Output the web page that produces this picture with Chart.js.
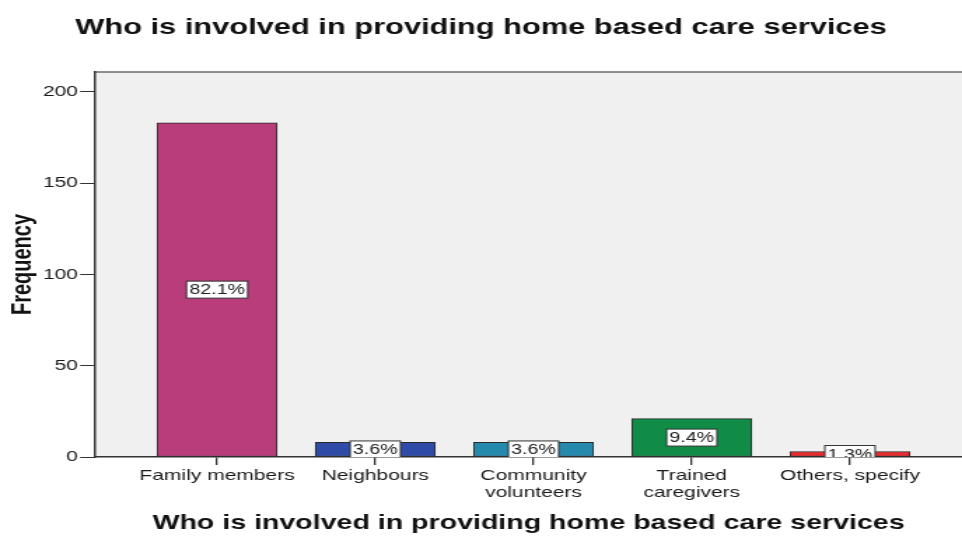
<!DOCTYPE html>
<html>
<head>
<meta charset="utf-8">
<script src="https://cdn.jsdelivr.net/npm/chart.js@4/dist/chart.umd.min.js"></script>
<style>
  html, body { margin:0; padding:0; background:#fff; overflow:hidden; }
  #wrap { width:962px; height:536px; position:relative; }
  /* 원본 그림이 가로로 늘어나 있어서 canvas 를 가로로만 늘려줌 */
  #chart { position:absolute; left:0; top:0; transform-origin:0 0; transform:scaleX(1.4003); }
</style>
</head>
<body>
<div id="wrap"><canvas id="chart" width="687" height="536"></canvas></div>
<script>
// ---- data ----
const categories = ['Family members', 'Neighbours', ['Community', 'volunteers'], ['Trained', 'caregivers'], 'Others, specify'];
const counts = [183, 8, 8, 21, 3];
const barColors = ['#b93d7a', '#2e4ba8', '#2689ae', '#108c47', '#e8282d'];
const yTicks = [0, 50, 100, 150, 200];
const chartTitle = 'Who is involved in providing home based care services';
const yTitle = 'Frequency';

const FONT = "'Liberation Sans', Arial, sans-serif";
const total = counts.reduce((a, b) => a + b, 0);

// ---- plot 배경 + 윗선 ----
const plotBg = {
  id: 'plotBg',
  beforeDraw(chart) {
    const { ctx, chartArea: a } = chart;
    ctx.save();
    ctx.fillStyle = '#f0f0f0';
    ctx.fillRect(a.left, a.top, a.right - a.left, a.bottom - a.top);
    ctx.strokeStyle = '#6b6b6b';
    ctx.lineWidth = 1.5;
    ctx.beginPath();
    ctx.moveTo(a.left, a.top);
    ctx.lineTo(a.right, a.top);
    ctx.stroke();
    ctx.restore();
  }
};

// ---- 막대 가운데 퍼센트 라벨 ----
const pctLabels = {
  id: 'pctLabels',
  afterDatasetsDraw(chart) {
    const { ctx, chartArea: a } = chart;
    const meta = chart.getDatasetMeta(0);
    ctx.save();
    ctx.beginPath();
    ctx.rect(a.left, a.top, a.right - a.left, a.bottom - a.top);
    ctx.clip();
    ctx.font = '14px ' + FONT;
    ctx.textAlign = 'center';
    ctx.textBaseline = 'middle';
    meta.data.forEach((bar, i) => {
      const txt = (counts[i] / total * 100).toFixed(1) + '%';
      const cy = (bar.y + bar.base) / 2;
      const w = ctx.measureText(txt).width + 4, h = 17;
      ctx.fillStyle = '#fff';
      ctx.fillRect(bar.x - w / 2, cy - h / 2, w, h);
      ctx.strokeStyle = '#333';
      ctx.lineWidth = 1;
      ctx.strokeRect(bar.x - w / 2, cy - h / 2, w, h);
      ctx.fillStyle = '#222';
      ctx.fillText(txt, bar.x, cy + 1);
    });
    ctx.restore();
  }
};

new Chart(document.getElementById('chart'), {
  type: 'bar',
  data: {
    datasets: [{
      data: categories.map((c, i) => ({ x: i, y: counts[i] })),
      backgroundColor: barColors,
      borderColor: '#2a2a2a',
      borderWidth: 1,
      borderSkipped: false,
      barThickness: 85.7
    }]
  },
  options: {
    responsive: false,
    animation: false,
    layout: { padding: 0 },
    plugins: {
      legend: { display: false },
      tooltip: { enabled: false },
      title: {
        display: true,
        text: chartTitle,
        color: '#111',
        font: { family: FONT, size: 22, weight: 'bold', lineHeight: 1.2 },
        padding: { top: 15, bottom: 30.6 }
      }
    },
    scales: {
      x: {
        type: 'linear',
        min: -0.771, max: 4.708,
        offset: false,
        afterBuildTicks: s => { s.ticks = categories.map((c, i) => ({ value: i })); },
        afterFit: s => { s.height = 79; },
        ticks: {
          callback: v => categories[v],
          autoSkip: false, maxRotation: 0,
          color: '#1a1a1a', padding: 3,
          font: { family: FONT, size: 15, lineHeight: 1.1 }
        },
        grid: { display: true, offset: false, drawOnChartArea: false, drawTicks: true, tickLength: 8, color: '#333', lineWidth: 1.3 },
        border: { display: true, color: '#333', width: 1.5 },
        title: {
          display: true, text: chartTitle, color: '#111',
          font: { family: FONT, size: 20.4, weight: 'bold', lineHeight: 1.2 },
          padding: { top: 0, bottom: 0 }
        }
      },
      y: {
        min: 0, max: 210.8,
        afterBuildTicks: s => { s.ticks = yTicks.map(v => ({ value: v })); },
        afterFit: s => { s.width = 67.9; },
        ticks: { color: '#1a1a1a', padding: 1.5, font: { family: FONT, size: 15 } },
        grid: { display: true, drawOnChartArea: false, drawTicks: true, tickLength: 10.7, color: '#333', lineWidth: 1 },
        border: { display: true, color: '#333', width: 1.5 },
        title: {
          display: true, text: yTitle, color: '#111',
          font: { family: FONT, size: 20, weight: 'bold', lineHeight: 1.2 },
          padding: { top: 4.4, bottom: 0 }
        }
      }
    }
  },
  plugins: [plotBg, pctLabels]
});
</script>
</body>
</html>
